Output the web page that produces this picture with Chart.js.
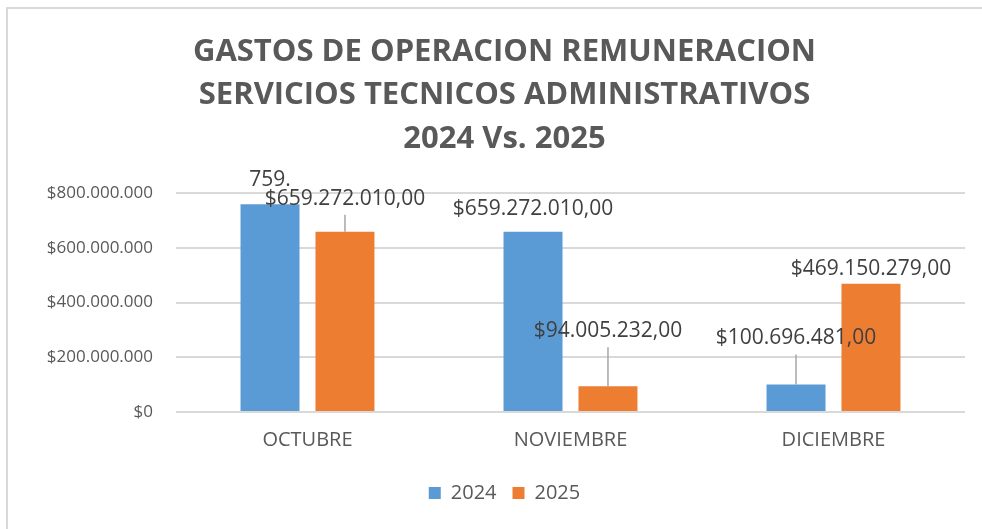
<!DOCTYPE html>
<html>
<head>
<meta charset="utf-8">
<title>Gastos de operacion 2024 vs 2025</title>
<script src="https://cdn.jsdelivr.net/npm/chart.js@4.4.1/dist/chart.umd.min.js"></script>
<style>
    html, body { margin: 0; padding: 0; background: #ffffff; }
    #contenedor { width: 982px; height: 529px; }
</style>
</head>
<body>
<div id="contenedor">
    <canvas id="myChart" width="982" height="529"></canvas>
</div>
<script>
// Datos del grafico
var meses = ["OCTUBRE", "NOVIEMBRE", "DICIEMBRE"];
var gastos2024 = [759000000, 659272010, 100696481];
var gastos2025 = [659272010, 94005232, 469150279];
var ticksEje = [0, 200000000, 400000000, 600000000, 800000000];
var titulo = [
    "GASTOS DE OPERACION REMUNERACION",
    "SERVICIOS TECNICOS ADMINISTRATIVOS",
    "2024 Vs. 2025"
];
// la etiqueta de octubre 2024 sale cortada en el original
var etiquetaCortada = { "0-0": "759." };

// Posicion de las etiquetas (desplazamiento vertical respecto al tope de la barra)
var posEtiquetas = [
    [{ dy: -24 }, { dy: -23 }, { dy: -46, linea: true }],
    [{ dy: -33, linea: true }, { dy: -55, linea: true }, { dy: -15 }]
];

var FUENTE = "'Open Sans', 'Noto Sans', sans-serif";

// Formato $659.272.010,00
function formatoMoneda(v, decimales) {
    var entero = Math.round(v).toString().replace(/\B(?=(\d{3})+(?!\d))/g, ".");
    return "$" + entero + (decimales ? ",00" : "");
}

// Fondo y borde del recuadro
var pluginFondo = {
    id: "fondo",
    beforeDraw: function (chart) {
        var c = chart.ctx;
        c.save();
        c.fillStyle = "#ffffff";
        c.fillRect(0, 0, chart.width, chart.height);
        c.strokeStyle = "#d9d9d9";
        c.lineWidth = 2;
        c.beginPath();
        c.moveTo(7, chart.height);
        c.lineTo(7, 8);
        c.lineTo(chart.width, 8);
        c.stroke();
        c.restore();
    }
};

// Etiquetas de datos con lineas guia
var pluginEtiquetas = {
    id: "etiquetas",
    afterDatasetsDraw: function (chart) {
        var c = chart.ctx;
        c.save();
        c.font = "21px " + FUENTE;
        c.textAlign = "center";
        c.textBaseline = "middle";
        chart.data.datasets.forEach(function (ds, i) {
            var meta = chart.getDatasetMeta(i);
            meta.data.forEach(function (barra, j) {
                var pos = posEtiquetas[i][j];
                var texto = etiquetaCortada[i + "-" + j] || formatoMoneda(ds.data[j], true);
                var x = barra.x;
                var y = barra.y + pos.dy;
                if (pos.linea) {
                    c.strokeStyle = "#a6a6a6";
                    c.lineWidth = 1.5;
                    c.beginPath();
                    c.moveTo(x, y + 16);
                    c.lineTo(x, barra.y);
                    c.stroke();
                }
                c.fillStyle = "#404040";
                c.fillText(texto, x, y);
            });
        });
        c.restore();
    }
};

var ctx = document.getElementById("myChart").getContext("2d");
var chart = new Chart(ctx, {
    type: "bar",
    data: {
        labels: meses,
        datasets: [
            {
                label: "2024",
                data: gastos2024,
                backgroundColor: "#5b9bd5",
                categoryPercentage: 0.57,
                barPercentage: 0.787
            },
            {
                label: "2025",
                data: gastos2025,
                backgroundColor: "#ed7d31",
                categoryPercentage: 0.57,
                barPercentage: 0.787
            }
        ]
    },
    options: {
        responsive: false,
        animation: false,
        layout: { padding: { left: 44, right: 17, top: 8, bottom: 16 } },
        plugins: {
            title: {
                display: true,
                text: titulo,
                color: "#595959",
                font: { family: FUENTE, size: 31, weight: "bold", lineHeight: 1.41 },
                padding: { top: 22, bottom: 32 }
            },
            legend: {
                position: "bottom",
                labels: {
                    color: "#595959",
                    font: { family: FUENTE, size: 20 },
                    boxWidth: 12,
                    boxHeight: 12,
                    padding: 16
                }
            },
            tooltip: { enabled: false }
        },
        scales: {
            x: {
                grid: { display: false },
                border: { display: false },
                afterFit: function (axis) {
                    axis.height += 7;
                },
                ticks: {
                    color: "#595959",
                    font: { family: FUENTE, size: 20 },
                    padding: 8
                }
            },
            y: {
                min: 0,
                max: 800000000,
                afterBuildTicks: function (axis) {
                    axis.ticks = ticksEje.map(function (v) { return { value: v }; });
                },
                afterFit: function (axis) {
                    axis.width = 132;
                },
                grid: { color: "#d9d9d9", lineWidth: 2, drawTicks: false },
                border: { display: false },
                ticks: {
                    color: "#595959",
                    font: { family: FUENTE, size: 17 },
                    padding: 23,
                    callback: function (v) { return formatoMoneda(v, false); }
                }
            }
        }
    },
    plugins: [pluginFondo, pluginEtiquetas]
});
</script>
</body>
</html>
